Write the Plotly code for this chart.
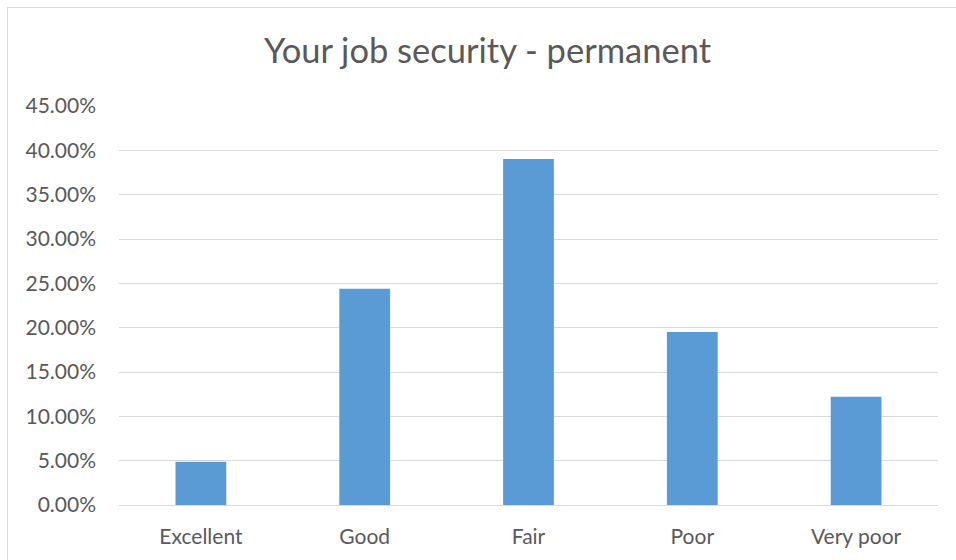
import plotly.graph_objects as go

categories = ["Excellent", "Good", "Fair", "Poor", "Very poor"]
values = [0.0488, 0.2439, 0.3902, 0.1951, 0.1220]
y_ticks = [0, 0.05, 0.10, 0.15, 0.20, 0.25, 0.30, 0.35, 0.40, 0.45]

W, H = 956, 560
L, R, T, B = 119, 18, 106, 55
pw, ph = W - L - R, H - T - B

def px_to_paper_x(px):
    return (px - L) / pw

def py_to_paper_y(py):
    return (H - B - py) / ph

font_family = "Lato, 'Open Sans', sans-serif"
txt = "#595959"

fig = go.Figure(go.Bar(
    x=categories, y=values, marker=dict(color="#5B9BD5", line=dict(width=0)),
    width=0.31,
))

fig.update_layout(
    width=W, height=H,
    margin=dict(l=L, r=R, t=T, b=B),
    paper_bgcolor="white", plot_bgcolor="white",
    showlegend=False,
    title=dict(text="Your job security - permanent", x=487.5 / W, xanchor="center",
               xref="container", y=1 - 51 / H, yref="container", yanchor="middle",
               font=dict(family=font_family, size=34.5, color=txt)),
    font=dict(family=font_family, color=txt),
    xaxis=dict(showgrid=False, showline=False, zeroline=False,
               tickfont=dict(size=21, color=txt), ticklabelstandoff=17,
               fixedrange=True),
    yaxis=dict(range=[0, 0.45], tickvals=y_ticks, tickformat=".2%",
               showgrid=True, gridcolor="#D9D9D9", gridwidth=1,
               zeroline=True, zerolinecolor="#D9D9D9", zerolinewidth=1,
               showline=False, tickfont=dict(size=21, color=txt),
               ticklabelstandoff=22),
    bargap=0.69,
    shapes=[dict(type="rect", xref="paper", yref="paper",
                 x0=px_to_paper_x(7.5), x1=px_to_paper_x(965),
                 y0=py_to_paper_y(570), y1=py_to_paper_y(7.5),
                 line=dict(color="#D9D9D9", width=1), fillcolor="rgba(0,0,0,0)",
                 layer="below")],
)

fig.write_html("out.html")
